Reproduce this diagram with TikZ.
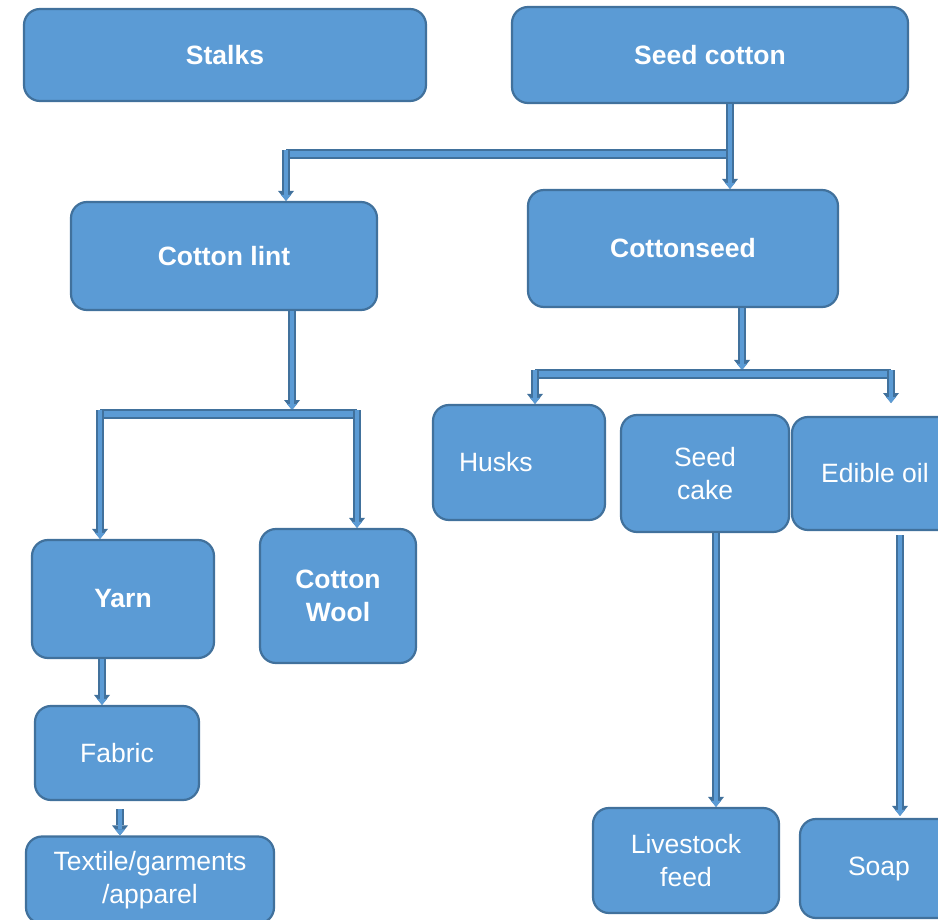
\documentclass[tikz,border=0pt]{standalone}
\usepackage{fontspec}
\setmainfont{Liberation Sans}
\usetikzlibrary{calc, arrows.meta}
\definecolor{boxblue}{HTML}{5B9BD5}
\definecolor{edgeblue}{HTML}{41719C}
\tikzset{
	box/.style={draw=edgeblue, fill=boxblue, line width=2.2pt, rounded corners=16pt, text=white, align=center, inner sep=4pt, font=\fontsize{26.5}{33}\selectfont},
	title/.style={box, font=\bfseries\fontsize{26.5}{33}\selectfont},
	flow/.style={draw=boxblue, line width=4pt,
		preaction={draw=edgeblue, line width=7.5pt, -{Triangle[width=16pt, length=10pt, line width=0pt]}},
		-{Triangle[width=10pt, length=6pt, line width=0pt]}},
	bar/.style={draw=boxblue, line width=6.5pt, preaction={draw=edgeblue, line width=10pt}}
}

\begin{document}
\begin{tikzpicture}[x=1pt, y=-1pt]
		\clip (0,0) rectangle (938,920);
		% top row
		\node[title, minimum width=402pt, minimum height=92pt] (stalks) at (225,55) {Stalks};
		\node[title, minimum width=396pt, minimum height=96pt] (seedcotton) at (710,55) {Seed cotton};
		% second row
		\node[title, minimum width=306pt, minimum height=108pt] (cottonlint) at (224,256) {Cotton lint};
		\node[title, minimum width=310pt, minimum height=117pt] (cottonseed) at (683,248.5) {Cottonseed};
		% cottonseed products
		\node[box, align=left, text width=120pt, inner xsep=26pt, minimum height=115pt] (husks) at (519,462.5) {Husks};
		\node[box, minimum width=168pt, minimum height=117pt] (seedcake) at (705,473.5) {Seed\\cake};
		\node[box, minimum width=166pt, minimum height=113pt] (edibleoil) at (875,473.5) {Edible oil};
		\node[box, minimum width=186pt, minimum height=105pt] (livestock) at (686,860.5) {Livestock\\feed};
		\node[box, minimum width=158pt, minimum height=99pt] (soap) at (879,868.5) {Soap};
		% lint products
		\node[title, minimum width=182pt, minimum height=118pt] (yarn) at (123,599) {Yarn};
		\node[title, minimum width=156pt, minimum height=134pt] (cottonwool) at (338,596) {Cotton\\Wool};
		\node[box, minimum width=164pt, minimum height=94pt] (fabric) at (117,753) {Fabric};
		\node[box, minimum width=248pt, minimum height=87pt] (textile) at (150,880) {Textile/garments\\/apparel};

		% seed cotton split
		\coordinate (sc) at (730,154);
		\coordinate (cl) at (286,154);
		\draw[bar] (cl) -- (sc);
		\draw[flow] (seedcotton.south -| sc) -- (cottonseed.north -| sc);
		\draw[flow] ($(cl)+(0,-4)$) -- (cottonlint.north -| cl);
		% cotton lint split
		\coordinate (lt) at (292,410);
		\coordinate (ya) at (100,414);
		\coordinate (wo) at (357,414);
		\draw[flow] (cottonlint.south -| lt) -- (lt);
		\draw[bar] (ya) -- (wo);
		\draw[flow] ($(ya)+(0,-4)$) -- (yarn.north -| ya);
		\draw[flow] ($(wo)+(0,-4)$) -- (cottonwool.north -| wo);
		% cottonseed split
		\coordinate (cs) at (742,370);
		\coordinate (hu) at (535,374);
		\coordinate (oi) at (891,374);
		\coordinate (oiend) at (891,403);
		\draw[flow] (cottonseed.south -| cs) -- (cs);
		\draw[bar] (hu) -- (oi);
		\draw[flow] ($(hu)+(0,-4)$) -- (husks.north -| hu);
		\draw[flow] ($(oi)+(0,-4)$) -- (oiend);
		% downstream
		\draw[flow] (yarn.south -| 102,0) -- (fabric.north -| 102,0);
		\draw[flow] ($(fabric.south -| 120,0)+(0,8)$) -- (textile.north -| 120,0);
		\draw[flow] (seedcake.south -| 716,0) -- (livestock.north -| 716,0);
		\draw[flow] ($(edibleoil.south -| 900,0)+(0,4)$) -- ($(soap.north -| 900,0)+(0,-2)$);
	\end{tikzpicture}
\end{document}
